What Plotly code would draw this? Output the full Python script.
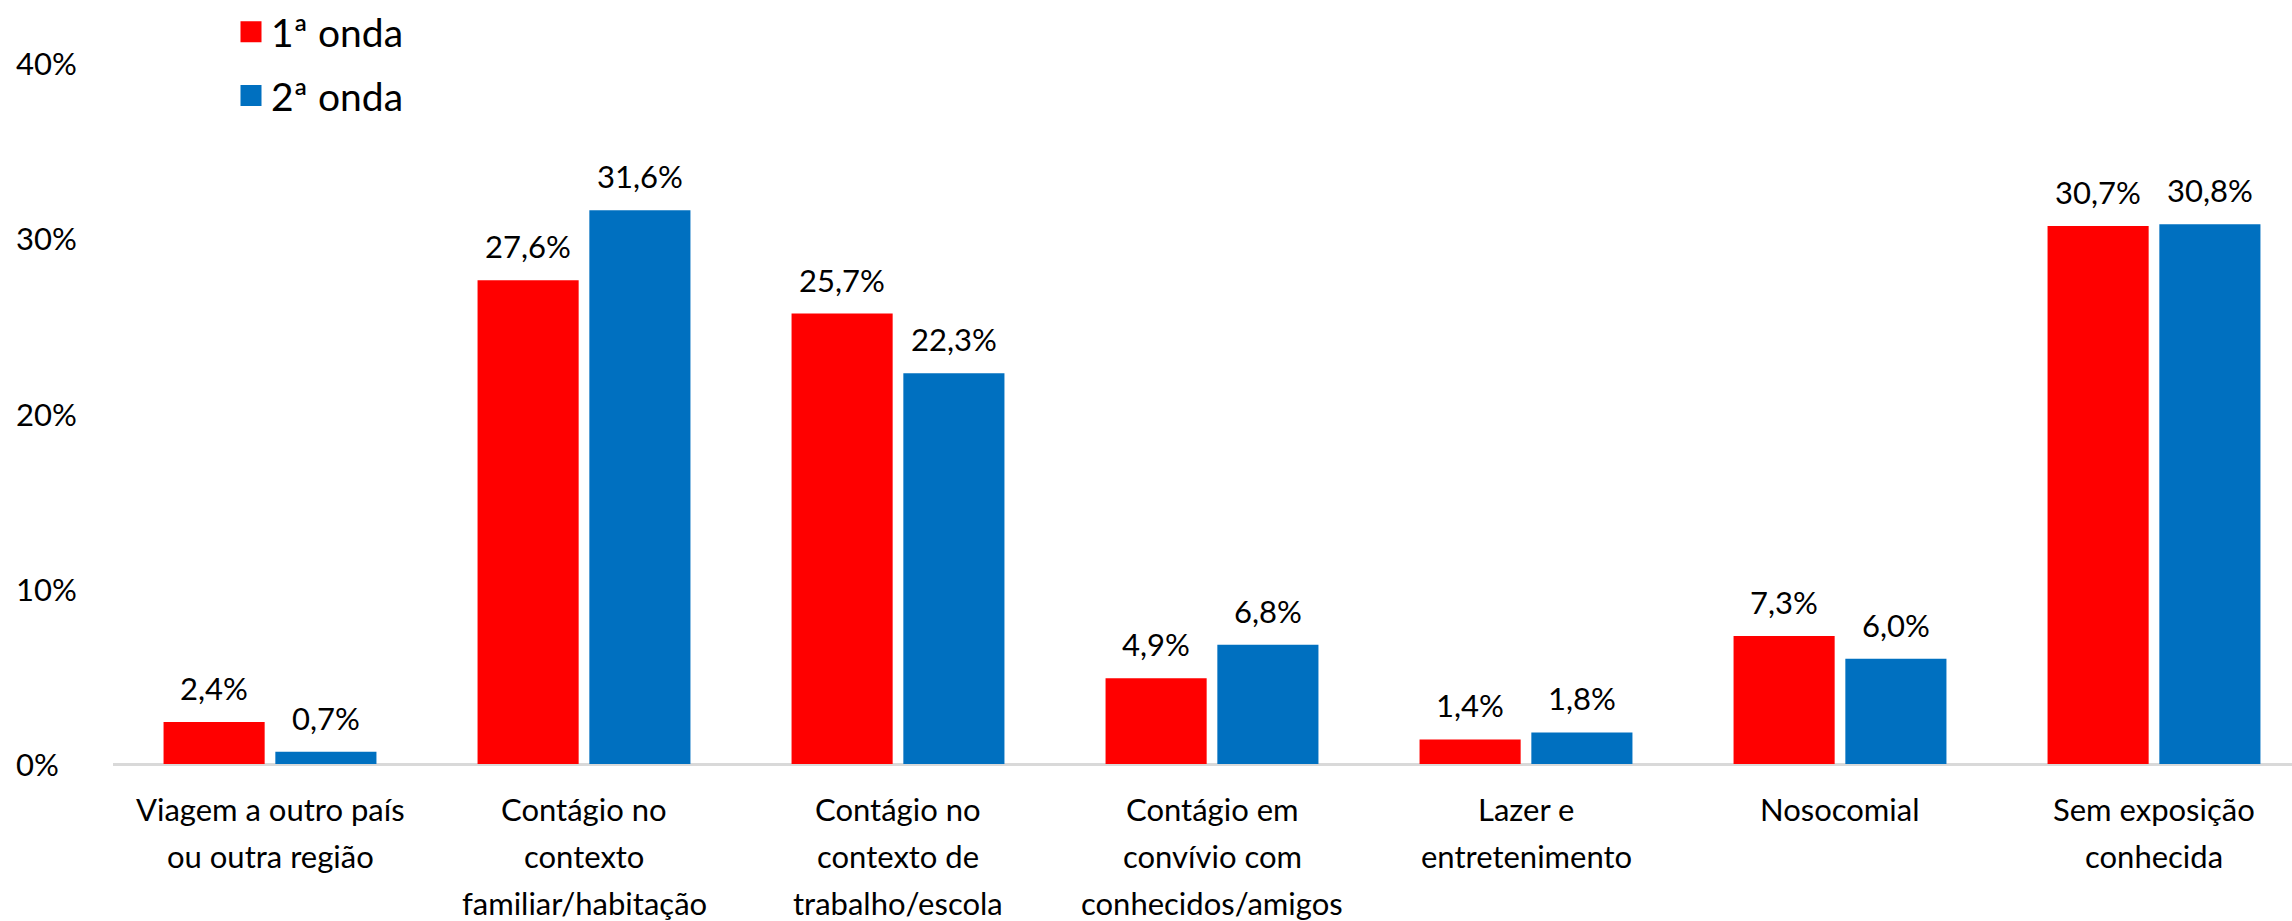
import plotly.graph_objects as go

# Categories (one list entry per line of the label)
categories = [
    ["Viagem a outro país", "ou outra região"],
    ["Contágio no", "contexto", "familiar/habitação"],
    ["Contágio no", "contexto de", "trabalho/escola"],
    ["Contágio em", "convívio com", "conhecidos/amigos"],
    ["Lazer e", "entretenimento"],
    ["Nosocomial"],
    ["Sem exposição", "conhecida"],
]
series_names = ["1ª onda", "2ª onda"]
onda1 = [2.4, 27.6, 25.7, 4.9, 1.4, 7.3, 30.7]
onda2 = [0.7, 31.6, 22.3, 6.8, 1.8, 6.0, 30.8]
y_ticks = [0, 10, 20, 30, 40]

colors = ["#FF0000", "#0070C0"]
FONT = "Lato, 'Open Sans', sans-serif"
FS = 31

W, H = 2292, 921
ML, MR, MT, MB = 113, 0, 63, 157
cat_px = 314.0
plot_w = W - ML - MR
x_idx = list(range(len(categories)))

bar_w = 0.322
offsets = [-0.339, 0.017]

fig = go.Figure()
for name, vals, col, off in zip(series_names, [onda1, onda2], colors, offsets):
    fig.add_trace(go.Bar(
        x=x_idx, y=vals, name=name, width=bar_w, offset=off,
        marker=dict(color=col, line=dict(width=0)),
        showlegend=False, hoverinfo="skip",
    ))
    # legend swatch
    fig.add_trace(go.Scatter(
        x=[None], y=[None], mode="markers", name=name, legendgroup=name,
        marker=dict(symbol="square", size=16, color=col,
                    line=dict(width=5, color=col)),
    ))

annotations = []
# value labels above each bar
for vals, off in zip([onda1, onda2], offsets):
    for i, v in enumerate(vals):
        annotations.append(dict(
            x=i + off + bar_w / 2, y=v, xref="x", yref="y",
            text=f"{v:.1f}%".replace(".", ","), showarrow=False,
            xanchor="center", yanchor="bottom", yshift=13,
            font=dict(family=FONT, size=FS, color="black"),
        ))
# category labels, one annotation per line
line_gap = 47
for i, lines in enumerate(categories):
    for k, ln in enumerate(lines):
        annotations.append(dict(
            x=i, y=0, xref="x", yref="y", text=ln, showarrow=False,
            xanchor="center", yanchor="middle", yshift=-(45 + k * line_gap),
            font=dict(family=FONT, size=FS, color="black"),
        ))
# y tick labels, left aligned
for t in y_ticks:
    annotations.append(dict(
        x=-(ML - 14) / plot_w, y=t, xref="paper", yref="y",
        text=f"{t}%", showarrow=False, xanchor="left", yanchor="middle",
        font=dict(family=FONT, size=FS, color="black"),
    ))

fig.update_layout(
    width=W, height=H,
    margin=dict(l=ML, r=MR, t=MT, b=MB, autoexpand=False),
    paper_bgcolor="white", plot_bgcolor="white",
    font=dict(family=FONT, size=FS, color="black"),
    barmode="overlay",
    xaxis=dict(
        range=[-0.5, -0.5 + plot_w / cat_px], showticklabels=False,
        showgrid=False, zeroline=False, showline=False, ticks="",
    ),
    yaxis=dict(
        range=[0, 40], showticklabels=False, showgrid=False,
        zeroline=True, zerolinecolor="#D9D9D9", zerolinewidth=2.5,
        showline=False, ticks="",
    ),
    legend=dict(
        xref="container", yref="container", x=231 / W, y=1 + 2 / H,
        xanchor="left", yanchor="top", tracegroupgap=10,
        font=dict(family=FONT, size=39, color="black"),
        bgcolor="rgba(0,0,0,0)",
    ),
    annotations=annotations,
)

fig.write_html("out.html")
